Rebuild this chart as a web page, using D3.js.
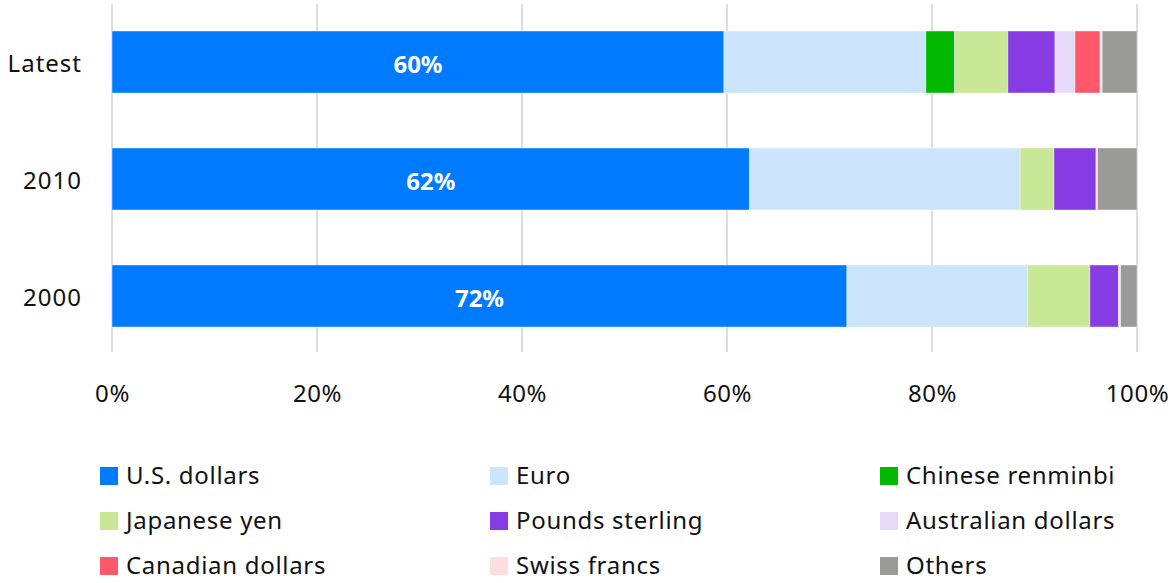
<!DOCTYPE html>
<html>
<head>
<meta charset="utf-8">
<script src="https://cdn.jsdelivr.net/npm/d3@7"></script>
<style>
  body { margin: 0; background: #fff; }
  svg { display: block; font-family: "Noto Sans", sans-serif; }
</style>
</head>
<body>
<svg width="1168" height="583"></svg>
<script>
// Currency shares of reserves, by period (percent)
const periods = ["Latest", "2010", "2000"];
const currencies = ["U.S. dollars", "Euro", "Chinese renminbi", "Japanese yen", "Pounds sterling",
  "Australian dollars", "Canadian dollars", "Swiss francs", "Others"];
const colors = ["#007bff", "#cce4fc", "#00b900", "#c9e897", "#873ce3",
  "#e7d9f8", "#ff576b", "#ffdde1", "#9a9a99"];

const usd      = [59.7, 62.2, 71.7];
const euro     = [19.7, 26.4, 17.6];
const rmb      = [2.8, 0, 0];
const yen      = [5.2, 3.3, 6.1];
const gbp      = [4.6, 4.1, 2.8];
const aud      = [1.95, 0, 0];
const cad      = [2.45, 0, 0];
const chf      = [0.2, 0.15, 0.2];
const others   = [3.4, 3.85, 1.6];

const xTicks = [0, 20, 40, 60, 80, 100];

const seriesValues = [usd, euro, rmb, yen, gbp, aud, cad, chf, others];
const table = periods.map((p, i) => {
  const row = {period: p};
  currencies.forEach((c, j) => row[c] = seriesValues[j][i]);
  return row;
});

const svg = d3.select("svg");
const x = d3.scaleLinear().domain([0, 100]).range([112, 1137]);
const y = d3.scaleBand().domain(periods).range([3.5, 354.5])
  .paddingInner(0.47).paddingOuter(0.235);
const color = d3.scaleOrdinal().domain(currencies).range(colors);
const font = "'Noto Sans', sans-serif";

// gridlines
svg.append("g")
  .selectAll("line")
  .data(xTicks)
  .join("line")
  .attr("x1", d => x(d)).attr("x2", d => x(d))
  .attr("y1", 4).attr("y2", 352)
  .attr("stroke", "#dddddd")
  .attr("stroke-width", 2);

// x axis labels
const xAxis = svg.append("g")
  .attr("transform", "translate(0,382)")
  .call(d3.axisBottom(x).tickValues(xTicks).tickFormat(d => d + "%").tickSize(0));
xAxis.select(".domain").remove();
xAxis.selectAll("text")
  .attr("fill", "#111")
  .attr("font-size", 24)
  .attr("letter-spacing", 0.6)
  .attr("font-family", font);

// y axis labels
const yAxis = svg.append("g")
  .attr("transform", "translate(82,2)")
  .call(d3.axisLeft(y).tickSize(0).tickPadding(0));
yAxis.select(".domain").remove();
yAxis.selectAll("text")
  .attr("fill", "#111")
  .attr("font-size", 24)
  .attr("letter-spacing", 1)
  .attr("font-family", font);

// stacked bars
const stacked = d3.stack().keys(currencies)(table);

svg.append("g")
  .selectAll("g")
  .data(stacked)
  .join("g")
  .attr("fill", d => color(d.key))
  .selectAll("rect")
  .data(d => d.filter(s => s[1] - s[0] > 0))
  .join("rect")
  .attr("x", d => x(d[0]))
  .attr("y", d => y(d.data.period))
  .attr("width", d => x(d[1]) - x(d[0]))
  .attr("height", y.bandwidth())
  .attr("stroke", "#fff")
  .attr("stroke-opacity", 0.5)
  .attr("stroke-width", 0.8);

// USD labels
svg.append("g")
  .selectAll("text")
  .data(stacked[0])
  .join("text")
  .attr("x", d => x((d[0] + d[1]) / 2))
  .attr("y", d => y(d.data.period) + y.bandwidth() / 2 + 3)
  .attr("dy", "0.35em")
  .attr("text-anchor", "middle")
  .attr("fill", "#fff")
  .attr("font-weight", "bold")
  .attr("font-size", 24)
  .text(d => Math.round(d[1] - d[0]) + "%");

// legend
const legend = svg.append("g")
  .selectAll("g")
  .data(currencies)
  .join("g")
  .attr("transform", (d, i) => `translate(${100 + (i % 3) * 390},${476 + Math.floor(i / 3) * 45})`);

legend.append("rect")
  .attr("x", 0).attr("y", -9)
  .attr("width", 18).attr("height", 18)
  .attr("fill", d => color(d));

legend.append("text")
  .attr("x", 26)
  .attr("dy", "0.35em")
  .attr("fill", "#111")
  .attr("font-size", 24)
  .attr("letter-spacing", 0.7)
  .text(d => d);
</script>
</body>
</html>
